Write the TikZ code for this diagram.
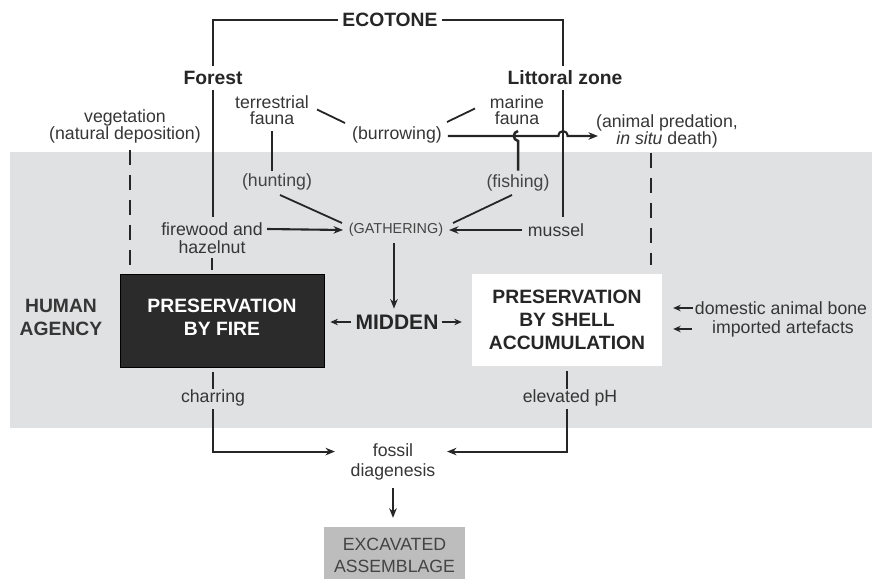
\documentclass[tikz,border=0pt]{standalone}
\usepackage{fontspec}
\setmainfont{Liberation Sans}
\usetikzlibrary{arrows.meta,calc}
\definecolor{band}{HTML}{E0E1E2}
\definecolor{ink}{HTML}{262626}
\definecolor{txt}{HTML}{363636}
\definecolor{soft}{HTML}{444444}
\definecolor{firebox}{HTML}{2B2B2B}
\definecolor{exbox}{HTML}{BDBDBD}
\begin{document}
\begin{tikzpicture}[x=1pt,y=-1pt,
  lab/.style={font=\fontsize{17.7}{17}\selectfont, text=txt, align=center, inner sep=0pt},
  blab/.style={font=\fontsize{19.3}{23}\selectfont\bfseries, text=ink, align=center, inner sep=0pt},
  thk/.style={draw=ink, line width=2.9pt},
  med/.style={draw=ink, line width=2.5pt},
  thin/.style={draw=ink, line width=1.8pt},
  arr/.style={draw=ink, line width=2.1pt, -{Stealth[length=9.5pt,width=7.5pt]}},
  sarr/.style={draw=ink, line width=1.6pt, -{Stealth[length=7.5pt,width=6.5pt]}},
  dashln/.style={draw=ink, line width=2.6pt, dash pattern=on 15pt off 10pt},
]
\useasboundingbox (0,0) rectangle (872,578);
\fill[band] (10,152) rectangle (872,428);

% labels
\node[blab, inner sep=4pt] (eco) at (390,20) {ECOTONE};
\node[blab, inner sep=5pt] (forest) at (213,78) {Forest};
\node[blab, inner sep=5pt] (littoral) at (565,78) {Littoral zone};
\node[lab] (veg) at (125,126) {vegetation\\(natural deposition)};
\node[lab, font=\fontsize{17.7}{16}\selectfont] (terr) at (272,110.5) {terrestrial\\fauna};
\node[lab, font=\fontsize{17.7}{16}\selectfont] (marine) at (517,110.5) {marine\\fauna};
\node[lab] (burrow) at (397,135) {(burrowing)};
\node[lab] (pred) at (667,131) {(animal predation,\\\textit{in situ} death)};
\node[lab, text=soft] (hunting) at (277,182) {(hunting)};
\node[lab, text=soft] (fishing) at (518,183) {(fishing)};
\node[lab, text=soft, font=\fontsize{14.4}{14}\selectfont] (gather) at (396,230) {(GATHERING)};
\node[lab, font=\fontsize{17.7}{18.5}\selectfont] (firewood) at (212,238) {firewood and\\hazelnut};
\node[lab] (mussel) at (556,230) {mussel};
\node[blab, font=\fontsize{21}{23}\selectfont\bfseries] (midden) at (397,322) {MIDDEN};
\node[blab, text=txt] (human) at (61,317) {HUMAN\\AGENCY};
\node[lab] (dom) at (781,308) {domestic animal bone};
\node[lab] (imp) at (783,329) {imported artefacts};
\node[lab] (charring) at (213,398) {charring};
\node[lab] (ph) at (570,398) {elevated pH};
\node[lab, font=\fontsize{17.7}{20}\selectfont] (fossil) at (393,462) {fossil\\diagenesis};

% boxes
\node[fill=firebox, draw=black, line width=0.8pt, minimum width=204pt, minimum height=93pt, inner sep=0pt] (fire) at (222,320.5) {};
\node[blab, text=white] (firetxt) at ($(fire.center)+(0,-3)$) {PRESERVATION\\BY FIRE};
\node[blab, fill=white, minimum width=190pt, minimum height=92pt] (shell) at (567,320) {PRESERVATION\\BY SHELL\\ACCUMULATION};
\node[lab, fill=exbox, text=soft, font=\fontsize{17.7}{22}\selectfont, minimum width=141pt, minimum height=56pt] (excav) at (394.5,555) {EXCAVATED\\ASSEMBLAGE};

% ecotone bracket
\coordinate (lx) at ($(littoral.north)+(-2,0)$);
\draw[thk] (eco.west) -| (forest.north);
\draw[thk] (eco.east) -| (lx);
\draw[thk, shorten >=5pt] (forest.south) -- (forest.south |- firewood.north);
\draw[thk, shorten >=6pt] ($(littoral.south)+(-2,0)$) -- ($(littoral.south |- mussel.north)+(-2,0)$);

% fauna links
\draw[thin] ($(terr.center)+(45,-1)$) -- ($(burrow.center)+(-52,-12)$);
\draw[thin] ($(marine.center)+(-42,-2)$) -- ($(burrow.center)+(50,-13)$);
\draw[med, shorten <=6pt, shorten >=3pt] (terr.south) -- (terr.south |- hunting.north);
\coordinate (b0) at ($(burrow.east)+(6,1)$);
\coordinate (hop) at (b0 -| lx);
\coordinate (curl) at (b0 -| fishing.north);
\draw[arr] (b0) -- ($(hop)+(-4.5,0)$) .. controls ($(hop)+(-4.5,-6.5)$) and ($(hop)+(4.5,-6.5)$) .. ($(hop)+(4.5,0)$) -- ($(b0 -| pred.west)+(2,0)$);
\draw[med] ($(fishing.north)+(0,-4)$) -- ($(curl)+(0,5)$) .. controls ($(curl)+(-5.5,4)$) and ($(curl)+(-5.5,-4)$) .. ($(curl)+(0,-5)$);

% gathering
\draw[thin] ($(hunting.center)+(3,13)$) -- ($(gather.center)+(-54,-7)$);
\draw[thin] ($(fishing.center)+(-6,12)$) -- ($(gather.center)+(57,-7)$);
\draw[arr] ($(firewood.center)+(55,-9)$) -- ($(gather.center)+(-53,0)$);
\draw[arr] ($(mussel.center)+(-34,0)$) -- ($(gather.center)+(53,0)$);
\draw[arr] ($(gather.center)+(-2,13)$) -- ($(gather.center |- midden.north)+(-2,-6)$);
\draw[med, shorten <=4pt, shorten >=4pt] (firewood.south) -- (firewood.south |- fire.north);

% midden
\draw[sarr] ($(midden.west)+(-4,0)$) -- ($(midden.west -| fire.east)+(6,0)$);
\draw[sarr] ($(midden.east)+(3,0)$) -- ($(midden.east -| shell.west)+(-10,0)$);

% external inputs
\draw[sarr] ($(dom.west)+(-2,0)$) -- ($(dom.west -| shell.east)+(11,0)$);
\draw[sarr] ($(imp.west)+(-20,0)$) -- ($(imp.west -| shell.east)+(11,0)$);

% natural deposition / predation dashed
\draw[dashln] ($(veg.south)+(5,7)$) -- ($(veg.south |- fire.north)+(5,-9)$);
\draw[dashln] ($(pred.south)+(-16,5)$) -- ($(pred.south |- shell.north)+(-16,-9)$);

% diagenesis
\coordinate (fa) at ($(fossil.north)+(0,8)$);
\draw[med, shorten <=5pt, shorten >=1pt] (fire.south -| charring.south) -- (charring.north);
\draw[med, shorten <=5pt, shorten >=1pt] (shell.south) -- (shell.south |- ph.north);
\draw[arr, shorten >=58pt] ($(charring.south)+(0,3)$) |- (fa);
\draw[arr, shorten >=54pt] ($(shell.south |- ph.south)+(0,3)$) |- (fa);
\draw[arr] ($(fossil.south)+(0,8)$) -- ($(fossil.south |- excav.north)+(0,-9)$);
\end{tikzpicture}
\end{document}
